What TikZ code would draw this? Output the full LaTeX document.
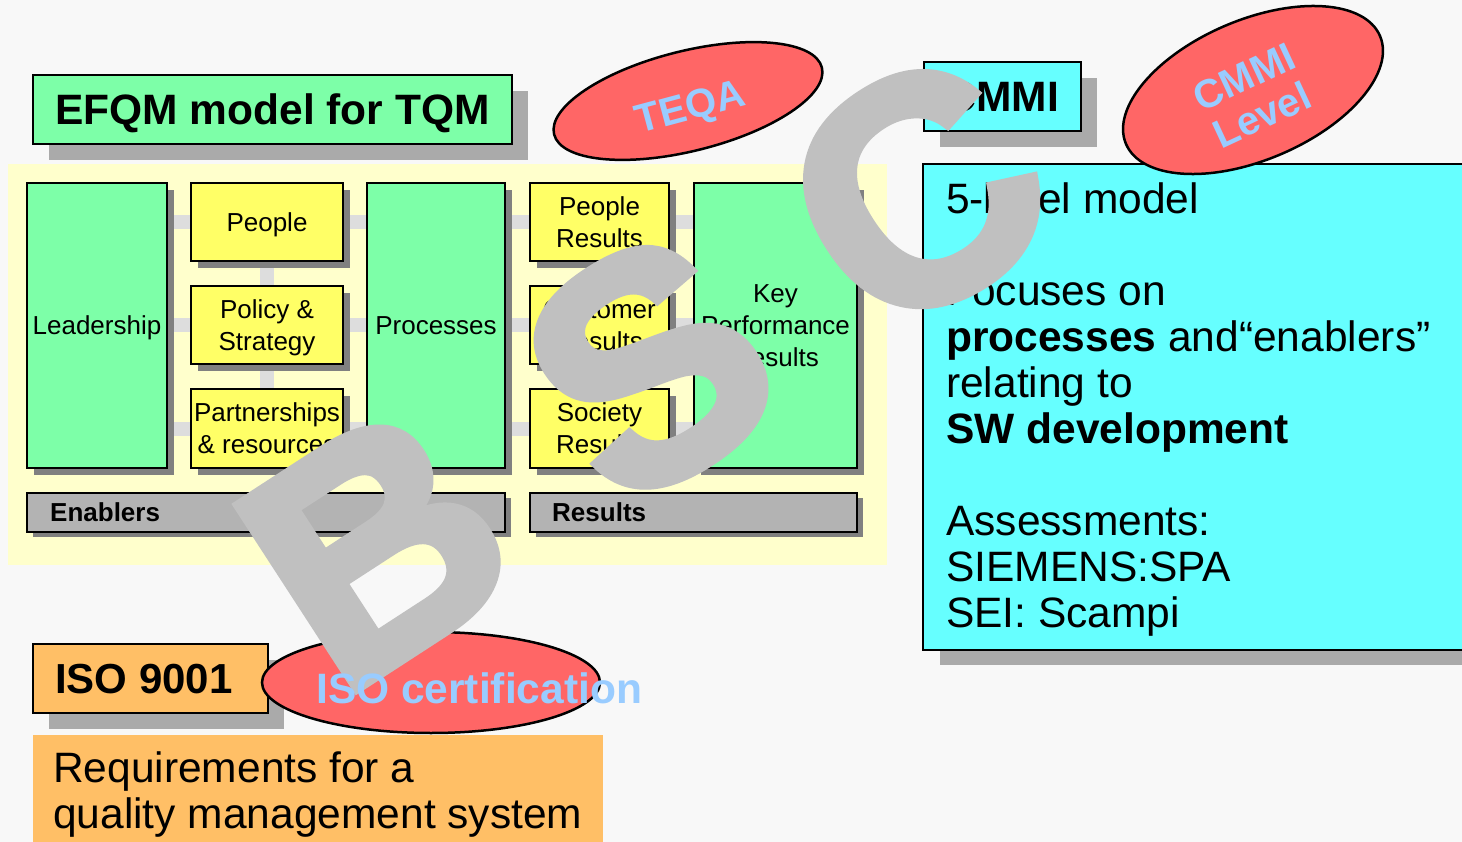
\documentclass[tikz,border=0pt]{standalone}
\usepackage{fontspec}
\setmainfont{Liberation Sans}
\newfontfamily\stampface{Liberation Sans Bold}[FakeBold=3]
\usetikzlibrary{shapes.geometric,shadows}
\newcommand\setfs[2]{\fontsize{#1}{#2}\selectfont}

\pgfdeclarelayer{backdrop}
\pgfdeclarelayer{links}
\pgfdeclarelayer{stamp}
\pgfdeclarelayer{overstamp}
\pgfsetlayers{backdrop,links,main,stamp,overstamp}

\definecolor{pagebg}{RGB}{248,248,248}
\definecolor{panel}{RGB}{255,255,204}
\definecolor{mint}{RGB}{125,255,168}
\definecolor{lemon}{RGB}{255,255,102}
\definecolor{link}{RGB}{221,221,221}
\definecolor{darkshadow}{RGB}{128,128,128}
\definecolor{softshadow}{RGB}{170,170,170}
\definecolor{barfill}{RGB}{179,179,179}
\definecolor{aqua}{RGB}{102,255,255}
\definecolor{apricot}{RGB}{255,191,102}
\definecolor{salmon}{RGB}{255,102,102}
\definecolor{sky}{RGB}{153,204,255}
\definecolor{stampgray}{RGB}{192,192,192}

\begin{document}
\begin{tikzpicture}[x=1pt,y=-1pt,
  tile/.style={draw, line width=2.5pt, inner sep=0pt, outer sep=0pt, align=center,
    anchor=north west, text depth=0pt, font=\setfs{26}{32},
    drop shadow={shadow xshift=7pt, shadow yshift=-7pt, fill=darkshadow, opacity=1}},
  enabler/.style={tile, fill=lemon},
  mainblock/.style={tile, fill=mint},
  band/.style={draw, line width=2.5pt, fill=barfill, anchor=north west, outer sep=0pt,
    inner sep=0pt, minimum height=39pt,
    drop shadow={shadow xshift=6pt, shadow yshift=-5pt, fill=darkshadow, opacity=1}},
  bandlabel/.style={anchor=west, inner sep=0pt, font=\bfseries\setfs{26}{32}},
  headline/.style={draw, line width=2.5pt, anchor=north west, outer sep=0pt, inner sep=0pt,
    minimum height=69pt, text depth=0pt, font=\bfseries\setfs{42.5}{46},
    drop shadow={shadow xshift=16pt, shadow yshift=-16pt, fill=softshadow, opacity=1}},
  badge/.style={ellipse, draw, line width=2.5pt, fill=salmon, inner sep=0pt},
  badgetext/.style={text=sky, font=\bfseries\setfs{40}{42}, align=center, inner sep=0pt, text depth=0pt},
  linkbar/.style={draw=link, line width=14pt},
  stampletter/.style={text=stampgray, inner sep=0pt, font=\stampface\setfs{318}{318}},
  bodytext/.style={anchor=north west, align=left, inner sep=0pt, font=\setfs{42.5}{46}}
]

% page and the pale panel of the EFQM model
\begin{pgfonlayer}{backdrop}
  \fill[pagebg] (0,0) rectangle (1462,842);
  \fill[panel] (8,164) rectangle (887,565);
\end{pgfonlayer}
\useasboundingbox (0,0) rectangle (1462,842);

% EFQM title
\node[headline, fill=mint, minimum width=479pt] (efqm) at (33,75) {EFQM model for TQM};

% enabler criteria
\node[mainblock, minimum width=140pt, minimum height=285pt] (lead) at (27,183) {Leadership};
\node[enabler, minimum width=152pt, minimum height=78pt] (ppl) at (191,183) {People};
\node[enabler, minimum width=152pt, minimum height=78pt] (pol) at (191,286) {Policy \&\\Strategy};
\node[enabler, minimum width=152pt, minimum height=79pt] (part) at (191,389) {Partnerships\\\& resources};
\node[mainblock, minimum width=138pt, minimum height=285pt] (proc) at (367,183) {Processes};

% result criteria
\node[enabler, minimum width=139pt, minimum height=78pt] (pres) at (530,183) {People\\Results};
\node[enabler, minimum width=139pt, minimum height=78pt] (cres) at (530,286) {Customer\\Results};
\node[enabler, minimum width=139pt, minimum height=79pt] (sres) at (530,389) {Society\\Results};
\node[mainblock, minimum width=163pt, minimum height=285pt] (kpr) at (694,183) {Key\\Performance\\Results};

% grouping bands
\node[band, minimum width=478pt] (enab) at (27,493) {};
\node[bandlabel] (enabtxt) at (50,512.5) {Enablers};
\node[band, minimum width=327pt] (res) at (530,493) {};
\node[bandlabel] (restxt) at (552,512.5) {Results};

% links between the criteria
\begin{pgfonlayer}{links}
  \draw[linkbar] (ppl.west) -- (ppl.west -| lead.east);
  \draw[linkbar] (pol.west) -- (pol.west -| lead.east);
  \draw[linkbar] (part.west) -- (part.west -| lead.east);
  \draw[linkbar] (ppl.east) -- (ppl.east -| proc.west);
  \draw[linkbar] (pol.east) -- (pol.east -| proc.west);
  \draw[linkbar] (part.east) -- (part.east -| proc.west);
  \draw[linkbar] (ppl.south) -- (pol.north);
  \draw[linkbar] (pol.south) -- (part.north);
  \draw[linkbar] (pres.west) -- (pres.west -| proc.east);
  \draw[linkbar] (cres.west) -- (cres.west -| proc.east);
  \draw[linkbar] (sres.west) -- (sres.west -| proc.east);
  \draw[linkbar] (pres.east) -- (pres.east -| kpr.west);
  \draw[linkbar] (cres.east) -- (cres.east -| kpr.west);
  \draw[linkbar] (sres.east) -- (sres.east -| kpr.west);
  \draw[linkbar] (pres.south) -- (cres.north);
  \draw[linkbar] (cres.south) -- (sres.north);
\end{pgfonlayer}

% TEQA badge
\node[badge, minimum width=276pt, minimum height=100pt, rotate=14] (teqa) at (688,101) {};
\node[badgetext, rotate=15] (teqatxt) at (690,106) {TEQA};

% CMMI
\node[headline, fill=aqua, minimum width=157pt] (cmmi) at (924,62) {CMMI};
\node[draw, line width=2.5pt, fill=aqua, anchor=north west, outer sep=0pt,
  minimum width=580pt, minimum height=486pt,
  drop shadow={shadow xshift=17pt, shadow yshift=-15pt, fill=softshadow, opacity=1}]
  (cmmibox) at (923,164) {};
\node[bodytext] (cmmitxt) at (946,181) {\rule{0pt}{32pt}5-level model\\[46pt]Focuses on\\\textbf{processes} and“enablers”\\relating to\\\textbf{SW development}\\[46pt]Assessments:\\SIEMENS:SPA\\SEI: Scampi};
\node[badge, minimum width=276pt, minimum height=140pt, rotate=23] (lvl) at (1253,90) {};
\node[badgetext, rotate=25] (lvltxt) at (1253,96) {CMMI\\Level};

% ISO 9001
\node[headline, fill=apricot, minimum width=235pt] (iso) at (33,644) {};
\node[anchor=base west, inner sep=0pt, font=\bfseries\setfs{42}{46}] (isotxt) at (55,693) {ISO 9001};
\node[fill=apricot, anchor=north west, outer sep=0pt, inner sep=0pt,
  minimum width=570pt, minimum height=120pt] (req) at (33,735) {};
\node[bodytext] (reqtxt) at (53,750) {\rule{0pt}{32pt}Requirements for a\\quality management system};
\node[badge, minimum width=338pt, minimum height=101pt] (cert) at (431,682.5) {};

% watermark letters
\begin{pgfonlayer}{stamp}
  \node[stampletter, rotate=33] (wmb) at (376,546) {B};
  \node[stampletter, rotate=33] (wms) at (649,367) {S};
  \node[stampletter, rotate=33] (wmc) at (917,193) {C};
\end{pgfonlayer}

\begin{pgfonlayer}{overstamp}
  \node[badgetext, font=\bfseries\setfs{42.5}{46}, anchor=base west] (certtxt) at (316,703) {ISO certification};
\end{pgfonlayer}

\end{tikzpicture}
\end{document}
